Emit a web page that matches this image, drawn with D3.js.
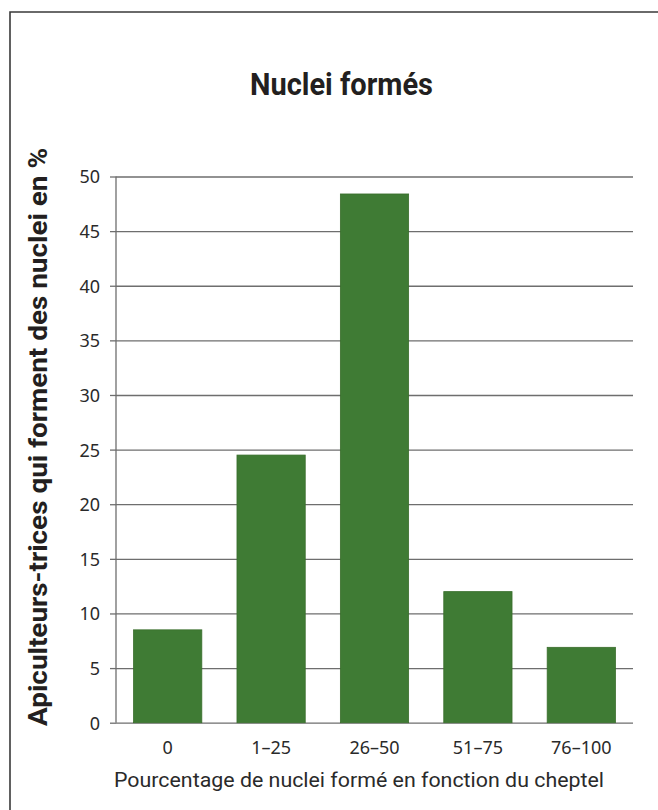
<!DOCTYPE html>
<html><head><meta charset="utf-8">
<script src="https://cdn.jsdelivr.net/npm/d3@7"></script>
<style>body{margin:0;background:#fff}svg{display:block}</style>
</head><body><svg id="c" width="658" height="810"></svg>
<script>
const categories = ["0", "1–25", "26–50", "51–75", "76–100"];
const values = [8.5, 24.5, 48.4, 12.0, 6.9];
const yTicks = [0, 5, 10, 15, 20, 25, 30, 35, 40, 45, 50];
const titleText = "Nuclei formés";
const xTitleText = "Pourcentage de nuclei formé en fonction du cheptel";
const yTitleText = "Apiculteurs-trices qui forment des nuclei en %";

const svg = d3.select("#c");
const plotL = 116, plotR = 633, plotT = 176.5, plotB = 722.7;
const condensed = "Roboto, 'Liberation Sans', sans-serif";
const tickFont = "'Noto Sans', 'Open Sans', sans-serif";

// frame (top + left edges)
svg.append("path").attr("d", "M10,810 L10,12 L658,12")
  .attr("fill", "none").attr("stroke", "#3a3a3a").attr("stroke-width", 1.6);

const x = d3.scaleBand().domain(categories).range([plotL, plotR]).paddingInner(0.34).paddingOuter(0.17);
const y = d3.scaleLinear().domain([0, 50]).range([plotB, plotT]);

// gridlines + ticks
const yAxis = d3.axisLeft(y).tickValues(yTicks).tickSize(6).tickPadding(10).tickFormat(d3.format("d"));
const gy = svg.append("g").attr("transform", `translate(${plotL},0)`).call(yAxis);
gy.select(".domain").remove();
gy.selectAll(".tick line").attr("stroke", "#6e6e6e").attr("stroke-width", 1.3);
gy.selectAll(".tick").append("line").attr("x1", 0).attr("x2", plotR - plotL)
  .attr("stroke", "#6e6e6e").attr("stroke-width", 1.3);
gy.selectAll(".tick text").attr("fill", "#2a2a2a").attr("dy", "0.36em")
  .style("font-family", tickFont).style("font-size", "18px");

// vertical axis line
svg.append("line").attr("x1", plotL).attr("x2", plotL).attr("y1", y(50)).attr("y2", y(0))
  .attr("stroke", "#6e6e6e").attr("stroke-width", 1.3);

// bars
svg.append("g").selectAll("rect").data(values).join("rect")
  .attr("x", (d, i) => x(categories[i]))
  .attr("width", x.bandwidth())
  .attr("y", d => y(d))
  .attr("height", d => y(0) - y(d))
  .attr("fill", "#3f7b34")
  .attr("stroke", "#3a6e2c").attr("stroke-width", 0.8);

// x labels
const xAxis = d3.axisBottom(x).tickSize(0).tickPadding(0);
const gx = svg.append("g").attr("transform", `translate(0,${plotB})`).call(xAxis);
gx.select(".domain").remove();
gx.selectAll(".tick text").attr("y", 31.5).attr("dy", 0).attr("fill", "#2a2a2a")
  .style("font-family", tickFont).style("font-size", "18px");

// titles
svg.append("text").attr("x", 341.5).attr("y", 95).attr("text-anchor", "middle")
  .attr("textLength", 183).attr("lengthAdjust", "spacingAndGlyphs")
  .style("font-family", condensed).style("font-weight", "bold").style("font-size", "31px")
  .attr("fill", "#231f20").text(titleText);

svg.append("text").attr("x", 114).attr("y", 787)
  .attr("textLength", 490).attr("lengthAdjust", "spacingAndGlyphs")
  .style("font-family", condensed).style("font-size", "20.5px")
  .attr("fill", "#2a2a2a").text(xTitleText);

svg.append("text").attr("transform", "translate(47,437) rotate(-90)").attr("text-anchor", "middle")
  .attr("textLength", 578).attr("lengthAdjust", "spacingAndGlyphs")
  .style("font-family", condensed).style("font-weight", "bold").style("font-size", "26px")
  .attr("fill", "#231f20").text(yTitleText);
</script></body></html>
